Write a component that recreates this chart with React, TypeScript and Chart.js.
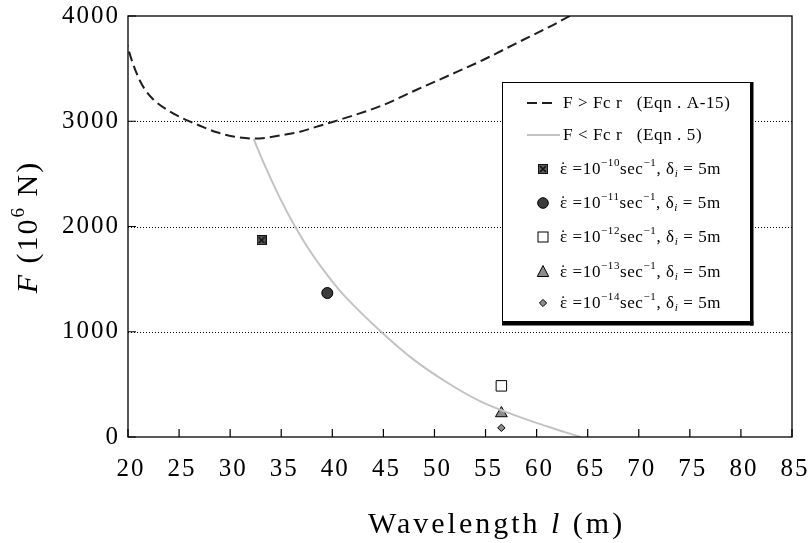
import React, { useEffect, useRef } from 'react';
import { Chart, registerables } from 'chart.js';

Chart.register(...registerables);

// ---------- data ----------
const xTickValues = [20, 25, 30, 35, 40, 45, 50, 55, 60, 65, 70, 75, 80, 85];
const yTickValues = [0, 1000, 2000, 3000, 4000];

// F > Fcr (Eqn. A-15), dashed curve
const upperX = [19.7, 20.3, 21, 21.6, 22.5, 23.8, 25.1, 26.1, 27.1, 28.7, 30.3, 32.3, 33.6, 35.2, 36.85, 38.5, 40.1, 41.7, 45, 48.2, 51.5, 54.75, 58, 61.3, 63.6, 64.5];
const upperF = [3800, 3600, 3420, 3310, 3205, 3110, 3040, 2996, 2955, 2895, 2855, 2835, 2844, 2870, 2901, 2949, 2996, 3044, 3155, 3297, 3439, 3582, 3740, 3899, 4018, 4060];

// F < Fcr (Eqn. 5), grey curve
const lowerX = [32.3, 33.6, 34.9, 36.35, 37.8, 39.5, 41.4, 44.67, 47.9, 51.2, 54.46, 57.7, 61, 64.3];
const lowerF = [2830, 2535, 2265, 2000, 1770, 1540, 1320, 1010, 740, 520, 340, 213, 102, 0];

// strain-rate data points (delta_i = 5 m)
const rateExponents = ['−10', '−11', '−12', '−13', '−14'];
const pointX = [33.07, 39.51, 56.55, 56.55, 56.55];
const pointF = [1870, 1368, 486, 225, 87];

const curveLabels = ['F > Fc r   (Eqn . A-15)', 'F < Fc r   (Eqn . 5)'];

// ---------- helpers ----------
const SERIF = '"Liberation Serif", "Times New Roman", serif';

type Seg = { t: string; italic?: boolean; sup?: boolean; sub?: boolean; dot?: boolean };

function segFont(s: Seg, size: number) {
  const fs = s.sup || s.sub ? Math.round(size * 0.62) : size;
  return `${s.italic ? 'italic ' : ''}${fs}px ${SERIF}`;
}

function richWidth(ctx: CanvasRenderingContext2D, segs: Seg[], size: number) {
  let w = 0;
  for (const s of segs) {
    ctx.font = segFont(s, size);
    w += ctx.measureText(s.t).width;
  }
  return w;
}

function drawRich(ctx: CanvasRenderingContext2D, x: number, y: number, segs: Seg[], size: number) {
  let cx = x;
  for (const s of segs) {
    ctx.font = segFont(s, size);
    const dy = s.sup ? -size * 0.42 : s.sub ? size * 0.22 : 0;
    ctx.fillText(s.t, cx, y + dy);
    const w = ctx.measureText(s.t).width;
    if (s.dot) {
      const ta = ctx.textAlign;
      ctx.textAlign = 'center';
      ctx.fillText('˙', cx + w / 2 - 0.5, y + dy - size * 0.08);
      ctx.textAlign = ta;
    }
    cx += w;
  }
}

function makeCrossSquare(): HTMLCanvasElement {
  const c = document.createElement('canvas');
  c.width = 10;
  c.height = 10;
  const g = c.getContext('2d')!;
  g.fillStyle = '#5c5c5c';
  g.fillRect(0.5, 0.5, 9, 9);
  g.strokeStyle = '#111';
  g.lineWidth = 1;
  g.strokeRect(0.5, 0.5, 9, 9);
  g.lineWidth = 1.6;
  g.beginPath();
  g.moveTo(2, 2);
  g.lineTo(8, 8);
  g.moveTo(8, 2);
  g.lineTo(2, 8);
  g.stroke();
  return c;
}

function drawMarker(ctx: CanvasRenderingContext2D, kind: number, x: number, y: number, crossImg: HTMLCanvasElement) {
  ctx.save();
  ctx.setLineDash([]);
  ctx.lineWidth = 1;
  ctx.strokeStyle = '#000';
  if (kind === 0) {
    ctx.drawImage(crossImg, x - 5, y - 5);
  } else if (kind === 1) {
    ctx.fillStyle = '#3c3c3c';
    ctx.beginPath();
    ctx.arc(x, y, 5.3, 0, Math.PI * 2);
    ctx.fill();
    ctx.stroke();
  } else if (kind === 2) {
    ctx.fillStyle = '#fff';
    ctx.fillRect(x - 5, y - 5, 10, 10);
    ctx.strokeRect(x - 5, y - 5, 10, 10);
  } else if (kind === 3) {
    ctx.fillStyle = '#8c8c8c';
    ctx.beginPath();
    ctx.moveTo(x, y - 6.5);
    ctx.lineTo(x + 5.7, y + 4.5);
    ctx.lineTo(x - 5.7, y + 4.5);
    ctx.closePath();
    ctx.fill();
    ctx.stroke();
  } else {
    ctx.fillStyle = '#8c8c8c';
    ctx.beginPath();
    ctx.moveTo(x, y - 3.6);
    ctx.lineTo(x + 3.6, y);
    ctx.lineTo(x, y + 3.6);
    ctx.lineTo(x - 3.6, y);
    ctx.closePath();
    ctx.fill();
    ctx.stroke();
  }
  ctx.restore();
}

export default function App() {
  const ref = useRef<HTMLCanvasElement | null>(null);

  useEffect(() => {
    const canvas = ref.current;
    if (!canvas) return;
    const crossImg = makeCrossSquare();

    const pointStyles: any[] = [crossImg, 'circle', 'rect', 'triangle', 'rectRot'];
    const pointRadii = [5, 5.5, 7.4, 6.8, 3.7];
    const pointFill = ['#5c5c5c', '#3c3c3c', '#ffffff', '#8c8c8c', '#8c8c8c'];

    const pointDatasets = pointX.map((x, i) => ({
      label: `10^${rateExponents[i]}`,
      data: [{ x, y: pointF[i] }],
      pointStyle: pointStyles[i],
      pointRadius: pointRadii[i],
      backgroundColor: pointFill[i],
      borderColor: '#000',
      borderWidth: 1,
      showLine: false,
    }));

    const framePlugin = {
      id: 'framePlugin',
      beforeDraw(chart: any) {
        (chart.ctx as any).letterSpacing = '2px';
      },
      beforeDatasetsDraw(chart: any) {
        const { ctx, chartArea: a, scales } = chart;
        ctx.save();
        (ctx as any).letterSpacing = '0px';
        ctx.strokeStyle = '#000';
        ctx.lineWidth = 1;
        ctx.setLineDash([1, 2]);
        for (const v of yTickValues) {
          if (v === 0 || v === 4000) continue;
          const y = Math.round(scales.y.getPixelForValue(v)) + 0.5;
          ctx.beginPath();
          ctx.moveTo(a.left, y);
          ctx.lineTo(a.right, y);
          ctx.stroke();
        }
        ctx.restore();
      },
      afterDatasetsDraw(chart: any) {
        const { ctx, chartArea: a, scales } = chart;
        ctx.save();
        (ctx as any).letterSpacing = '0px';
        ctx.setLineDash([]);
        ctx.strokeStyle = '#000';
        ctx.lineWidth = 1.3;
        ctx.strokeRect(a.left, a.top, a.right - a.left, a.bottom - a.top);
        ctx.lineWidth = 1.2;
        ctx.beginPath();
        for (const v of xTickValues) {
          const x = scales.x.getPixelForValue(v);
          ctx.moveTo(x, a.bottom);
          ctx.lineTo(x, a.bottom - 8);
        }
        for (const v of yTickValues) {
          const y = scales.y.getPixelForValue(v);
          ctx.moveTo(a.left, y);
          ctx.lineTo(a.left + 8, y);
        }
        ctx.stroke();
        ctx.restore();
      },
      afterDraw(chart: any) {
        const { ctx } = chart;
        ctx.save();
        ctx.fillStyle = '#000';
        ctx.textBaseline = 'alphabetic';
        ctx.textAlign = 'left';

        // x-axis title
        (ctx as any).letterSpacing = '3px';
        const xt: Seg[] = [{ t: 'Wavelength ' }, { t: 'l', italic: true }, { t: ' (m)' }];
        drawRich(ctx, 368, 533, xt, 30);

        // y-axis title (rotated)
        ctx.save();
        (ctx as any).letterSpacing = '2px';
        ctx.translate(37, 227);
        ctx.rotate(-Math.PI / 2);
        const yt: Seg[] = [{ t: 'F', italic: true }, { t: ' (10' }, { t: '6', sup: true }, { t: ' N)' }];
        const yw = richWidth(ctx, yt, 30);
        drawRich(ctx, -yw / 2, 0, yt, 30);
        ctx.restore();

        // legend box
        const bx = 502.5, by = 82.5, bw = 248, bh = 239;
        ctx.fillStyle = '#fff';
        ctx.fillRect(bx, by, bw, bh);
        ctx.strokeStyle = '#000';
        ctx.lineWidth = 1;
        ctx.setLineDash([]);
        ctx.strokeRect(bx, by, bw, bh);
        ctx.fillStyle = '#000';
        ctx.fillRect(bx + bw - 0.5, by - 0.5, 3.5, bh + 4.5);
        ctx.fillRect(bx - 0.5, by + bh - 0.5, bw + 3.5, 4.5);

        const rowY = [103, 135, 169, 203, 237, 272, 303];
        // curve samples
        ctx.lineWidth = 2;
        ctx.strokeStyle = '#1e1e1e';
        ctx.setLineDash([10, 5]);
        ctx.beginPath();
        ctx.moveTo(527, rowY[0]);
        ctx.lineTo(553, rowY[0]);
        ctx.stroke();
        ctx.setLineDash([]);
        ctx.strokeStyle = '#c3c3c3';
        ctx.beginPath();
        ctx.moveTo(527, rowY[1]);
        ctx.lineTo(560, rowY[1]);
        ctx.stroke();

        (ctx as any).letterSpacing = '0.6px';
        ctx.textBaseline = 'middle';
        ctx.font = `17px ${SERIF}`;
        ctx.fillStyle = '#000';
        ctx.fillText(curveLabels[0], 563, rowY[0] + 1);
        ctx.fillText(curveLabels[1], 563, rowY[1] + 1);

        rateExponents.forEach((ex, i) => {
          const y = rowY[i + 2];
          drawMarker(ctx, i, 543, y, crossImg);
          ctx.fillStyle = '#000';
          const segs: Seg[] = [
            { t: 'ε', dot: true },
            { t: ' =10' },
            { t: ex, sup: true },
            { t: 'sec' },
            { t: '−1', sup: true },
            { t: ', δ' },
            { t: 'i', sub: true, italic: true },
            { t: ' = 5m' },
          ];
          drawRich(ctx, 560, y + 1, segs, 17);
        });

        ctx.restore();
        (ctx as any).letterSpacing = '0px';
      },
    };

    const tickFont = { family: SERIF, size: 25 };

    const chart = new Chart(canvas, {
      type: 'scatter',
      data: {
        datasets: [
          {
            label: curveLabels[0],
            data: upperX.map((x, i) => ({ x, y: upperF[i] })),
            showLine: true,
            borderColor: '#1e1e1e',
            borderWidth: 2,
            borderDash: [10, 5],
            pointRadius: 0,
            cubicInterpolationMode: 'monotone',
            fill: false,
          },
          {
            label: curveLabels[1],
            data: lowerX.map((x, i) => ({ x, y: lowerF[i] })),
            showLine: true,
            borderColor: '#c3c3c3',
            borderWidth: 2,
            pointRadius: 0,
            tension: 0.4,
            fill: false,
          },
          ...pointDatasets,
        ] as any,
      },
      options: {
        animation: false,
        responsive: true,
        maintainAspectRatio: false,
        events: [],
        layout: { padding: { top: 16, right: 17, left: 0, bottom: 0 } },
        plugins: {
          legend: { display: false },
          tooltip: { enabled: false },
          title: { display: false },
        },
        scales: {
          x: {
            type: 'linear',
            min: 20,
            max: 85,
            afterBuildTicks: (s: any) => {
              s.ticks = xTickValues.map((v) => ({ value: v }));
            },
            ticks: {
              font: tickFont,
              color: '#000',
              padding: 17,
              labelOffset: 3,
              maxRotation: 0,
              autoSkip: false,
              callback: (v: any) => String(v),
            },
            grid: { display: false, drawTicks: false },
            border: { display: false },
            afterFit: (s: any) => {
              s.height = 106;
              s.paddingLeft = 0;
              s.paddingRight = 0;
            },
          },
          y: {
            type: 'linear',
            min: 0,
            max: 4000,
            afterBuildTicks: (s: any) => {
              s.ticks = yTickValues.map((v) => ({ value: v }));
            },
            ticks: {
              font: tickFont,
              color: '#000',
              padding: 8,
              callback: (v: any) => String(v),
            },
            grid: { display: false, drawTicks: false },
            border: { display: false },
            afterFit: (s: any) => {
              s.width = 128;
              s.paddingTop = 0;
              s.paddingBottom = 0;
            },
          },
        },
      } as any,
      plugins: [framePlugin],
    });

    return () => chart.destroy();
  }, []);

  return (
    <div style={{ position: 'fixed', left: 0, top: 0, width: 809, height: 543, background: '#fff' }}>
      <canvas ref={ref} />
    </div>
  );
}
